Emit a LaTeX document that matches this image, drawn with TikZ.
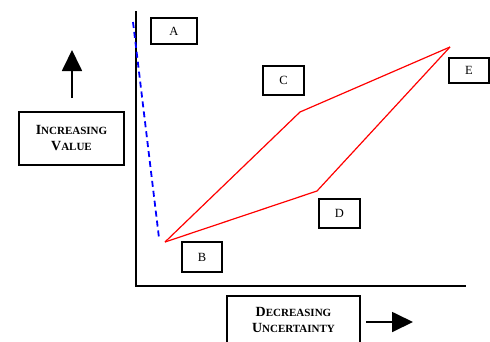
\documentclass[tikz,border=0pt]{standalone}
\usepackage{fontspec}
\setmainfont{Liberation Serif}
\usetikzlibrary{arrows.meta}
% bold small capitals built from two sizes
\newcommand\capbig[1]{{\fontsize{14}{17}\selectfont #1}}
\newcommand\capsmall[1]{{\fontsize{11}{17}\selectfont #1}}
\tikzset{
  labelbox/.style={draw, line width=1.6pt, inner sep=0pt, minimum width=41pt, minimum height=28pt,
    font=\fontsize{12.5}{14}\selectfont},
  axisbox/.style={draw, line width=1.6pt, inner sep=0pt, align=center, font=\bfseries\fontsize{14}{17}\selectfont},
  axisline/.style={line width=1.5pt},
  redpath/.style={red, line width=1.2pt},
  drop/.style={blue, line width=1.8pt, dash pattern=on 6pt off 4pt},
  dirarrow/.style={line width=1.8pt, -{Triangle[length=21pt,width=20pt]}}
}
\begin{document}
\begin{tikzpicture}[x=1pt,y=-1pt]
\useasboundingbox[fill=white] (0,0) rectangle (490,341);

% axes
\coordinate (O) at (136,286);
\coordinate (top) at (136,11);
\coordinate (right) at (466,286);
\draw[axisline] (top) -- (O) -- (right);

% axis captions with direction arrows
\node[axisbox, minimum width=105pt, minimum height=53pt] (val) at (71.5,138.5)
  {\capbig{I}\capsmall{NCREASING}\\[-1pt]\capbig{V}\capsmall{ALUE}};
\coordinate (upS) at (72,98);
\coordinate (upE) at (72,50);
\draw[dirarrow] (upS) -- (upE);

\node[axisbox, minimum width=133pt, minimum height=48pt] (unc) at (293.5,320)
  {\capbig{D}\capsmall{ECREASING}\\[-1pt]\capbig{U}\capsmall{NCERTAINTY}};
\coordinate (rtS) at (366,322);
\coordinate (rtE) at (413,322);
\draw[dirarrow] (rtS) -- (rtE);

% curve points
\coordinate (pa) at (133,22);
\coordinate (pa2) at (159,238);
\coordinate (pb) at (165,242);
\coordinate (pc) at (300,112);
\coordinate (pd) at (317,191);
\coordinate (pe) at (450,47);

\draw[drop] (pa) -- (pa2);
\draw[redpath] (pb) -- (pc) -- (pe);
\draw[redpath] (pb) -- (pd) -- (pe);

% point labels
\node[labelbox, minimum width=46pt, minimum height=26pt] (A) at (174,31) {A};
\node[labelbox, minimum width=40pt, minimum height=30pt] (B) at (202,257) {B};
\node[labelbox, minimum height=29pt] (C) at (283.5,80.5) {C};
\node[labelbox, minimum height=29pt] (D) at (339.5,213.5) {D};
\node[labelbox, minimum width=40pt, minimum height=25pt] (E) at (469,70.5) {E};
\end{tikzpicture}
\end{document}
